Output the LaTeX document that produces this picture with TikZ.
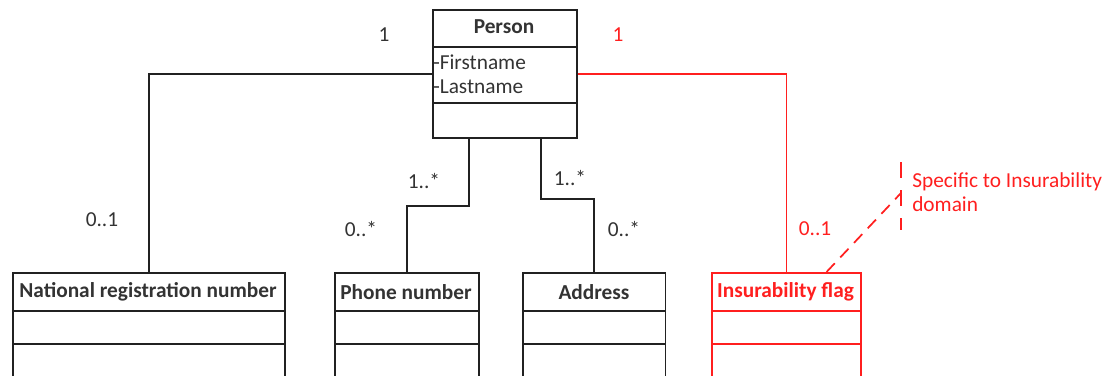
\documentclass[tikz,border=0pt]{standalone}
\usepackage{fontspec}
\setmainfont{Carlito}
\begin{document}
\definecolor{ink}{rgb}{0.13,0.13,0.13}
\definecolor{txt}{rgb}{0.2,0.2,0.2}
\definecolor{hot}{rgb}{1,0.12,0.12}
\begin{tikzpicture}[x=0.75pt,y=-0.75pt,
  every node/.style={font=\fontsize{16pt}{18pt}\selectfont, text=txt, inner sep=0pt},
  cls/.style={draw=ink, line width=1.3pt, rectangle, anchor=north west},
  title/.style={font=\fontsize{16pt}{18pt}\selectfont\bfseries},
  conn/.style={draw=ink, line width=1.3pt},
  mult/.style={text=txt}]
\useasboundingbox (0,0) rectangle (1103,375);
\clip (0,0) rectangle (1103,375);

% Person class
\node[cls, minimum width=108pt, minimum height=96pt] (person) at (432,9) {};
\draw[ink, line width=1.3pt] (432,47) -- (576,47) (432,103) -- (576,103);
\node[title] (personT) at (504,27) {Person};
\node[anchor=west] (fn) at (433,62) {-Firstname};
\node[anchor=west] (ln) at (433,87) {-Lastname};

% Lower classes
\node[cls, minimum width=204pt, minimum height=97pt] (nrn) at (12,272) {};
\draw[ink, line width=1.3pt] (12,311) -- (284,311) (12,344) -- (284,344);
\node[title] (nrnT) at (148,292) {National registration number};

\node[cls, minimum width=108pt, minimum height=97pt] (phone) at (334,272) {};
\draw[ink, line width=1.3pt] (334,311) -- (478,311) (334,344) -- (478,344);
\node[title] (phoneT) at (406,292) {Phone number};

\node[cls, minimum width=107pt, minimum height=97pt] (addr) at (522,272) {};
\draw[ink, line width=1.3pt] (522,311) -- (665,311) (522,344) -- (665,344);
\node[title] (addrT) at (594,292) {Address};

\node[cls, draw=hot, minimum width=112pt, minimum height=97pt] (ins) at (711,272) {};
\draw[hot, line width=1.3pt] (711,311) -- (860,311) (711,344) -- (860,344);
\node[title, text=hot] (insT) at (785.5,292) {Insurability flag};

% Associations
\draw[conn] (person.west) -| (nrn.north);
\draw[conn] ([xshift=-27pt]person.south) -- ++(0,67) -| (phone.north);
\draw[conn] ([xshift=27pt]person.south) -- ++(0,60) -| (addr.north);
\draw[conn, draw=hot] (person.east) -| (ins.north);

% Note
\coordinate (noteTop) at (901,162);
\coordinate (noteMid) at (901,193);
\coordinate (noteBot) at (901,230);
\draw[hot, line width=1.3pt, dash pattern=on 12pt off 9pt] (noteTop) -- (noteBot);
\draw[hot, line width=1.3pt, dash pattern=on 9pt off 6pt] ([xshift=30pt]ins.north) -- (noteMid);
\node[anchor=west, align=left, text=hot, font=\fontsize{16pt}{18pt}\selectfont] (note) at (912,192) {Specific to Insurability\\domain};

% Multiplicities
\node[mult] (m1) at (384,35) {1};
\node[mult, text=hot] (m2) at (618,35) {1};
\node[mult] (m3) at (102,220) {0..1};
\node[mult] (m4) at (424,181) {1..*};
\node[mult] (m5) at (361,229) {0..*};
\node[mult] (m6) at (570,178) {1..*};
\node[mult] (m7) at (624,229) {0..*};
\node[mult, text=hot] (m8) at (815,229) {0..1};
\end{tikzpicture}
\end{document}
